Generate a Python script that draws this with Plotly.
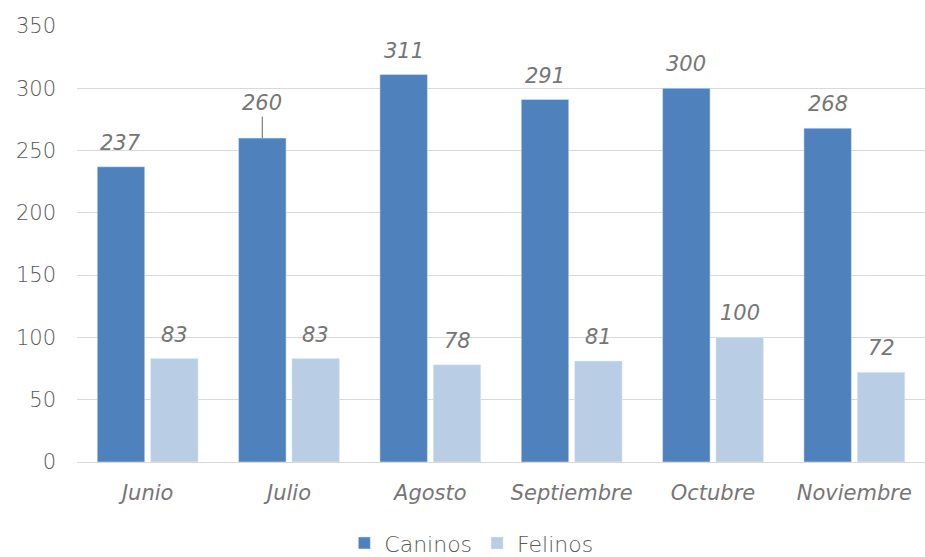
import plotly.graph_objects as go

months = ["Junio", "Julio", "Agosto", "Septiembre", "Octubre", "Noviembre"]
caninos = [237, 260, 311, 291, 300, 268]
felinos = [83, 83, 78, 81, 100, 72]

FONT = "DejaVu Sans ExtraLight, DejaVu Sans"
GRAY = "#595959"
IGRAY = "#767676"
C1 = "#4F81BD"
C2 = "#B9CDE5"

fig = go.Figure()
fig.add_trace(go.Bar(name="Caninos", x=months, y=caninos, marker_color=C1))
fig.add_trace(go.Bar(name="Felinos", x=months, y=felinos, marker_color=C2))

W, H = 925, 557
ml, mr, mt, mb = 77, 0, 26, 95
bargap = 0.245
cat_w = (W - ml - mr) / len(months)
slot = cat_w * (1 - bargap) / 2
shift = slot / 2

lab_font = dict(family=FONT, size=21, color=IGRAY, style="italic", weight=200)
annotations = []
for series, sgn in ((caninos, -1), (felinos, 1)):
    for m, v in zip(months, series):
        if m == "Julio" and sgn == -1:
            annotations.append(dict(x=m, y=v, text=str(v), xshift=sgn * shift,
                                    showarrow=True, arrowhead=0, arrowwidth=1.2,
                                    arrowcolor="#7f7f7f", ax=0, ay=-35, font=lab_font))
        else:
            annotations.append(dict(x=m, y=v, text=str(v), xshift=sgn * shift,
                                    yshift=10, yanchor="bottom", showarrow=False,
                                    font=lab_font))

fig.update_layout(
    width=W, height=H,
    margin=dict(l=ml, r=mr, t=mt, b=mb, autoexpand=False),
    paper_bgcolor="white", plot_bgcolor="white",
    barmode="group", bargap=bargap, bargroupgap=0.11,
    font=dict(family=FONT, color=GRAY, size=20, weight=200),
    showlegend=True,
    legend=dict(orientation="h", x=0.465, xanchor="center", y=-0.138, yanchor="top",
                font=dict(size=22, color=GRAY, family=FONT, weight=200),
                itemwidth=30, traceorder="normal"),
    annotations=annotations,
    xaxis=dict(showgrid=False, showline=False, ticks="", automargin=False,
               ticklabelstandoff=16,
               tickfont=lab_font),
    yaxis=dict(range=[0, 350], dtick=50, showgrid=True, gridcolor="#d9d9d9", gridwidth=1.3,
               zeroline=True, zerolinecolor="#d9d9d9", zerolinewidth=1.3, automargin=False,
               showline=False, ticks="", ticklabelstandoff=20,
               tickfont=dict(family=FONT, size=21, color=GRAY, weight=200)),
)

fig.write_html("out.html", config={"displayModeBar": False},
               post_script="document.body.style.margin='0';document.body.style.overflow='hidden';")
